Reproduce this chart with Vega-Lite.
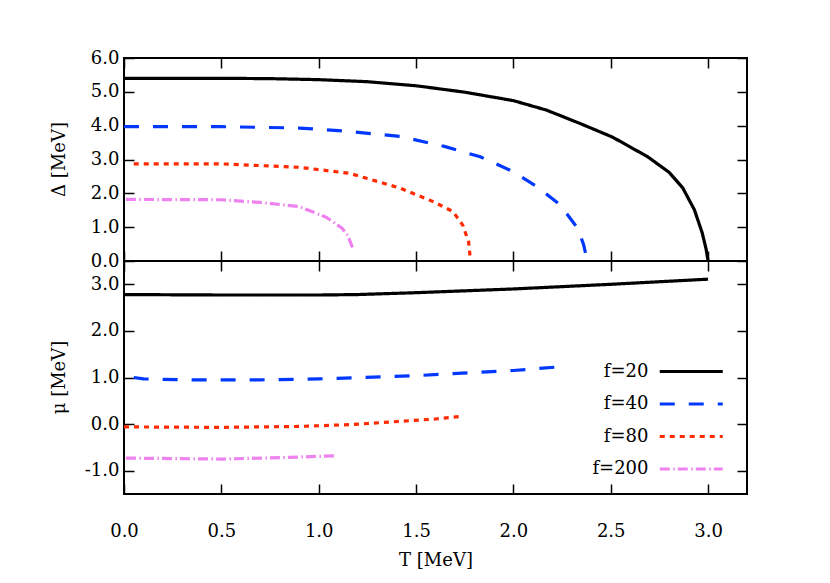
{
  "$schema": "https://vega.github.io/schema/vega-lite/v6.json",
  "background": "white",
  "padding": {"left": 49, "top": 48, "right": 5, "bottom": 5},
  "config": {
    "font": "DejaVu Serif",
    "view": {"stroke": "black", "strokeWidth": 2},
    "axis": {
      "labelFont": "DejaVu Serif",
      "titleFont": "DejaVu Serif",
      "labelFontSize": 18,
      "titleFontSize": 18,
      "titleFontWeight": "normal",
      "labelColor": "black",
      "titleColor": "black",
      "labelFlush": false,
      "labelOverlap": false,
      "domain": false,
      "grid": false,
      "tickColor": "black",
      "tickWidth": 1.5,
      "tickSize": -10,
      "format": ".1f",
      "labelExpr": "replace(datum.label, '−', '-')"
    },
    "legend": {
      "labelFont": "DejaVu Serif",
      "labelFontSize": 18,
      "labelColor": "black"
    }
  },
  "datasets": {
    "gap": [
      {"T": 0.0, "v": 5.40, "f": "f=20"},
      {"T": 0.25, "v": 5.40, "f": "f=20"},
      {"T": 0.5, "v": 5.40, "f": "f=20"},
      {"T": 0.75, "v": 5.39, "f": "f=20"},
      {"T": 1.0, "v": 5.36, "f": "f=20"},
      {"T": 1.25, "v": 5.30, "f": "f=20"},
      {"T": 1.5, "v": 5.18, "f": "f=20"},
      {"T": 1.75, "v": 4.99, "f": "f=20"},
      {"T": 2.0, "v": 4.74, "f": "f=20"},
      {"T": 2.17, "v": 4.46, "f": "f=20"},
      {"T": 2.34, "v": 4.07, "f": "f=20"},
      {"T": 2.51, "v": 3.66, "f": "f=20"},
      {"T": 2.69, "v": 3.08, "f": "f=20"},
      {"T": 2.8, "v": 2.62, "f": "f=20"},
      {"T": 2.87, "v": 2.16, "f": "f=20"},
      {"T": 2.93, "v": 1.51, "f": "f=20"},
      {"T": 2.97, "v": 0.83, "f": "f=20"},
      {"T": 2.99, "v": 0.35, "f": "f=20"},
      {"T": 3.0, "v": 0.0, "f": "f=20"},
      {"T": 0.0, "v": 3.97, "f": "f=40"},
      {"T": 0.5, "v": 3.97, "f": "f=40"},
      {"T": 0.9, "v": 3.93, "f": "f=40"},
      {"T": 1.14, "v": 3.84, "f": "f=40"},
      {"T": 1.42, "v": 3.68, "f": "f=40"},
      {"T": 1.65, "v": 3.38, "f": "f=40"},
      {"T": 1.83, "v": 3.08, "f": "f=40"},
      {"T": 2.0, "v": 2.64, "f": "f=40"},
      {"T": 2.12, "v": 2.2, "f": "f=40"},
      {"T": 2.24, "v": 1.66, "f": "f=40"},
      {"T": 2.33, "v": 0.97, "f": "f=40"},
      {"T": 2.36, "v": 0.5, "f": "f=40"},
      {"T": 2.38, "v": 0.0, "f": "f=40"},
      {"T": 0.05, "v": 2.87, "f": "f=80"},
      {"T": 0.5, "v": 2.87, "f": "f=80"},
      {"T": 0.9, "v": 2.77, "f": "f=80"},
      {"T": 1.16, "v": 2.59, "f": "f=80"},
      {"T": 1.42, "v": 2.15, "f": "f=80"},
      {"T": 1.59, "v": 1.75, "f": "f=80"},
      {"T": 1.69, "v": 1.46, "f": "f=80"},
      {"T": 1.74, "v": 1.06, "f": "f=80"},
      {"T": 1.77, "v": 0.57, "f": "f=80"},
      {"T": 1.78, "v": 0.0, "f": "f=80"},
      {"T": 0.01, "v": 1.82, "f": "f=200"},
      {"T": 0.5, "v": 1.81, "f": "f=200"},
      {"T": 0.7, "v": 1.73, "f": "f=200"},
      {"T": 0.9, "v": 1.61, "f": "f=200"},
      {"T": 1.04, "v": 1.29, "f": "f=200"},
      {"T": 1.12, "v": 0.97, "f": "f=200"},
      {"T": 1.15, "v": 0.75, "f": "f=200"},
      {"T": 1.17, "v": 0.45, "f": "f=200"},
      {"T": 1.18, "v": 0.32, "f": "f=200"}
    ],
    "mu": [
      {"T": 0.0, "v": 2.78, "f": "f=20"},
      {"T": 0.5, "v": 2.77, "f": "f=20"},
      {"T": 1.0, "v": 2.77, "f": "f=20"},
      {"T": 1.2, "v": 2.78, "f": "f=20"},
      {"T": 1.5, "v": 2.82, "f": "f=20"},
      {"T": 2.0, "v": 2.90, "f": "f=20"},
      {"T": 2.5, "v": 3.0, "f": "f=20"},
      {"T": 3.0, "v": 3.11, "f": "f=20"},
      {"T": 0.05, "v": 1.0, "f": "f=40"},
      {"T": 0.1, "v": 0.97, "f": "f=40"},
      {"T": 0.3, "v": 0.95, "f": "f=40"},
      {"T": 0.7, "v": 0.95, "f": "f=40"},
      {"T": 1.0, "v": 0.97, "f": "f=40"},
      {"T": 1.5, "v": 1.04, "f": "f=40"},
      {"T": 2.0, "v": 1.15, "f": "f=40"},
      {"T": 2.27, "v": 1.24, "f": "f=40"},
      {"T": 0.0, "v": -0.06, "f": "f=80"},
      {"T": 0.5, "v": -0.07, "f": "f=80"},
      {"T": 0.9, "v": -0.05, "f": "f=80"},
      {"T": 1.17, "v": -0.01, "f": "f=80"},
      {"T": 1.42, "v": 0.06, "f": "f=80"},
      {"T": 1.6, "v": 0.11, "f": "f=80"},
      {"T": 1.74, "v": 0.17, "f": "f=80"},
      {"T": 0.01, "v": -0.73, "f": "f=200"},
      {"T": 0.5, "v": -0.75, "f": "f=200"},
      {"T": 0.8, "v": -0.72, "f": "f=200"},
      {"T": 1.09, "v": -0.68, "f": "f=200"}
    ]
  },
  "spacing": 0,
  "bounds": "flush",
  "resolve": {"legend": {"color": "independent", "strokeDash": "independent"}},
  "vconcat": [
    {
      "width": 623,
      "height": 203,
      "data": {"name": "gap"},
      "layer": [
        {
          "mark": {"type": "line", "strokeWidth": 3.2, "clip": true},
          "encoding": {
            "x": {"field": "T", "type": "quantitative",
              "scale": {"domain": [0, 3.2], "nice": false},
              "axis": {"orient": "bottom", "labels": false, "title": null, "values": [0, 0.5, 1, 1.5, 2, 2.5, 3]}},
            "y": {"field": "v", "type": "quantitative",
              "scale": {"domain": [0, 6], "nice": false},
              "axis": {"orient": "left", "title": "Δ [MeV]", "values": [0, 1, 2, 3, 4, 5, 6], "labelPadding": 15, "titleX": -56, "titleY": 101}},
            "color": {"field": "f", "type": "nominal", "legend": null,
              "scale": {"domain": ["f=20", "f=40", "f=80", "f=200"], "range": ["#000000", "#0038ff", "#ff2a00", "#ee82ee"]}},
            "strokeDash": {"field": "f", "type": "nominal", "legend": null,
              "scale": {"domain": ["f=20", "f=40", "f=80", "f=200"], "range": [[1, 0], [15, 14], [5, 5], [10, 3.5, 1.5, 3]]}}
          }
        },
        {
          "mark": {"type": "line", "opacity": 0},
          "encoding": {
            "x": {"field": "T", "type": "quantitative",
              "axis": {"orient": "top", "labels": false, "title": null, "values": [0, 0.5, 1, 1.5, 2, 2.5, 3]}},
            "y": {"field": "v", "type": "quantitative",
              "axis": {"orient": "right", "labels": false, "title": null, "values": [0, 1, 2, 3, 4, 5, 6]}},
            "detail": {"field": "f"}
          }
        }
      ],
      "resolve": {"axis": {"x": "independent", "y": "independent"}}
    },
    {
      "width": 623,
      "height": 233,
      "data": {"name": "mu"},
      "layer": [
        {
          "mark": {"type": "line", "strokeWidth": 3.2, "clip": true},
          "encoding": {
            "x": {"field": "T", "type": "quantitative",
              "scale": {"domain": [0, 3.2], "nice": false},
              "axis": {"orient": "bottom", "title": "T [MeV]", "values": [0, 0.5, 1, 1.5, 2, 2.5, 3], "labelPadding": 38, "titlePadding": 11}},
            "y": {"field": "v", "type": "quantitative",
              "scale": {"domain": [-1.5, 3.5], "nice": false},
              "axis": {"orient": "left", "title": "μ [MeV]", "values": [-1, 0, 1, 2, 3], "labelPadding": 15, "titleX": -56, "titleY": 116}},
            "color": {"field": "f", "type": "nominal",
              "scale": {"domain": ["f=20", "f=40", "f=80", "f=200"], "range": ["#000000", "#0038ff", "#ff2a00", "#ee82ee"]},
              "legend": {"orient": "none", "legendX": 458, "legendY": 93, "title": null,
                "symbolType": "M-2,0H2", "symbolSize": 992, "symbolStrokeWidth": 3.2,
                "rowPadding": 5.5, "labelAlign": "right", "labelOffset": -60.25, "symbolOffset": 91.75}},
            "strokeDash": {"field": "f", "type": "nominal",
              "scale": {"domain": ["f=20", "f=40", "f=80", "f=200"], "range": [[1, 0], [15, 14], [5, 5], [10, 3.5, 1.5, 3]]},
              "legend": {"orient": "none", "legendX": 458, "legendY": 93, "title": null,
                "symbolType": "M-2,0H2", "symbolSize": 992, "symbolStrokeWidth": 3.2,
                "rowPadding": 5.5, "labelAlign": "right", "labelOffset": -60.25, "symbolOffset": 91.75}}
          }
        },
        {
          "mark": {"type": "line", "opacity": 0},
          "encoding": {
            "x": {"field": "T", "type": "quantitative",
              "axis": {"orient": "top", "labels": false, "title": null, "values": [0, 0.5, 1, 1.5, 2, 2.5, 3]}},
            "y": {"field": "v", "type": "quantitative",
              "axis": {"orient": "right", "labels": false, "title": null, "values": [-1, 0, 1, 2, 3]}},
            "detail": {"field": "f"}
          }
        }
      ],
      "resolve": {"axis": {"x": "independent", "y": "independent"}}
    }
  ]
}
